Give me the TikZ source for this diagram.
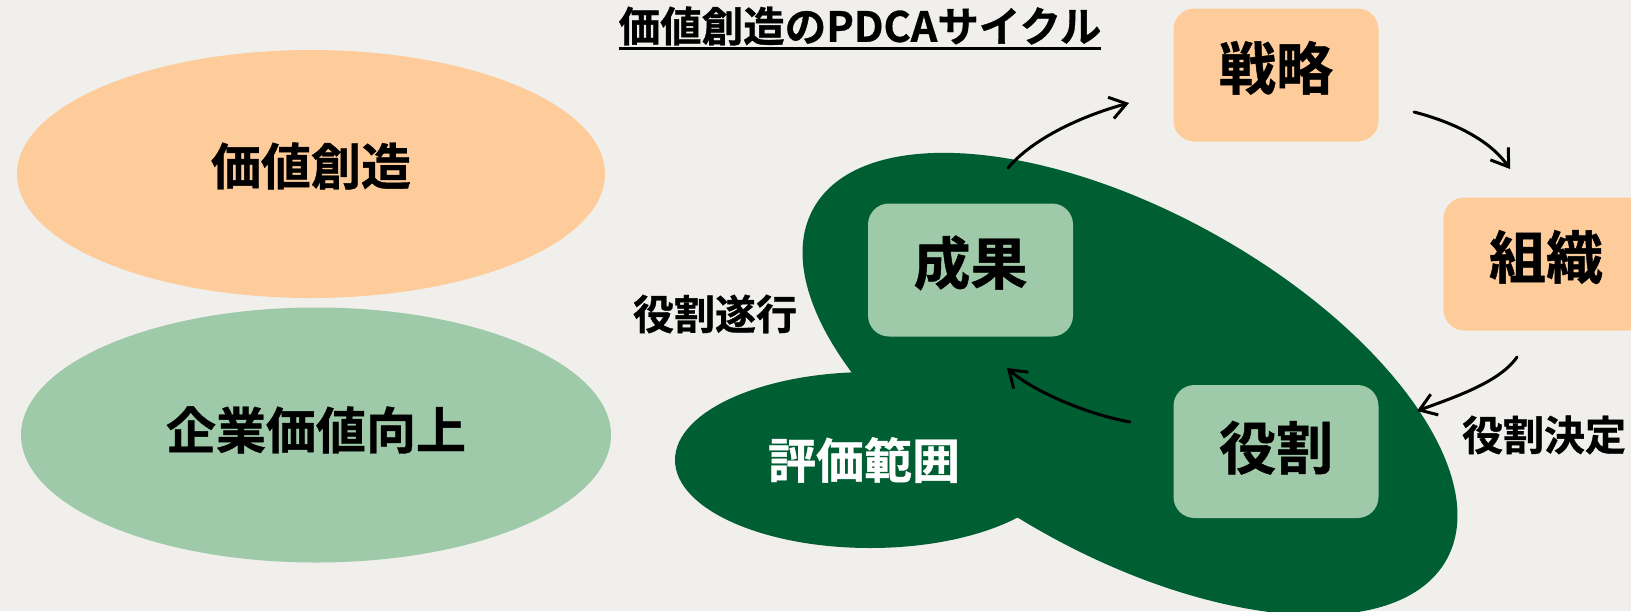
\documentclass[tikz,border=0pt]{standalone}
\usepackage{fontspec}
\setmainfont{Noto Sans CJK JP}[BoldFont={* Bold},BoldFeatures={FakeBold=0.8}]
\usetikzlibrary{arrows.meta,shapes.geometric}
\definecolor{bgc}{RGB}{240,239,235}
\definecolor{peach}{RGB}{254,204,154}
\definecolor{lgreen}{RGB}{158,202,169}
\definecolor{dgreen}{RGB}{0,94,51}
\begin{document}
\begin{tikzpicture}[x=1pt,y=-1pt,
  stagebox/.style={rounded corners=21pt, minimum width=205pt, minimum height=133pt,
    inner sep=0pt, font=\bfseries\fontsize{57pt}{60pt}\selectfont,
    text height=50pt, text depth=21pt},
  bigoval/.style={ellipse, inner sep=0pt, font=\bfseries\fontsize{50pt}{54pt}\selectfont,
    text height=44pt},
  lbl/.style={inner sep=0pt, font=\bfseries\fontsize{41pt}{44pt}\selectfont},
  arr/.style={line width=3pt, line cap=round,
    -{Straight Barb[length=16pt,width=22pt,line width=3pt]}}
]
\useasboundingbox (0,0) rectangle (1631,611);
\fill[bgc] (0,0) rectangle (1631,611);
\clip (0,0) rectangle (1631,611);

% left ellipses
\node[bigoval, fill=peach, minimum width=588pt, minimum height=248pt, text depth=22pt]
  (vc) at (311,174) {価値創造};
\node[bigoval, fill=lgreen, minimum width=590pt, minimum height=255pt, text depth=16pt]
  (ev) at (316,435) {企業価値向上};

% title
\node[inner sep=0pt, font=\bfseries\fontsize{41.5pt}{44pt}\selectfont] (title) at (860,26)
  {価値創造のPDCAサイクル};
\coordinate (ul) at (0,48.5);
\draw[line width=2.6pt] (title.west |- ul) -- (title.east |- ul);

% dark green evaluation area
\fill[dgreen, rotate around={-29:(1130,384)}] (1130,384) ellipse [x radius=362, y radius=172];
\fill[dgreen] (870,460) ellipse [x radius=195, y radius=88];

% boxes
\node[stagebox, fill=peach] (senryaku) at (1276,75) {戦略};
\node[stagebox, fill=peach] (soshiki) at (1546,264) {組織};
\node[stagebox, fill=lgreen] (seika) at (970.5,270) {成果};
\node[stagebox, fill=lgreen, text depth=14.5pt] (yakuwari) at (1276,451.5) {役割};

% labels
\node[lbl] (suikou) at (715,314) {役割遂行};
\node[lbl] (kettei) at (1544,435) {役割決定};
\node[inner sep=0pt, text=white, font=\bfseries\fontsize{48pt}{52pt}\selectfont] (hyouka)
  at (864,460) {評価範囲};

% arrow end points
\coordinate (a1s) at (1008,168);
\coordinate (a1e) at (1129,103);
\coordinate (a2s) at (1414,112);
\coordinate (a2e) at (1510,169);
\coordinate (a3s) at (1517,357);
\coordinate (a3e) at (1417,411);
\coordinate (a4s) at (1130,422);
\coordinate (a4e) at (1007,368);

\draw[arr] (a1s) .. controls (1034,137) and (1085,115) .. (a1e);
\draw[arr] (a2s) .. controls (1453,122) and (1490,140) .. (a2e);
\draw[arr] (a3s) .. controls (1500,382) and (1455,397) .. (a3e);
\draw[arr] (a4s) .. controls (1086,414) and (1033,391) .. (a4e);
\end{tikzpicture}
\end{document}
